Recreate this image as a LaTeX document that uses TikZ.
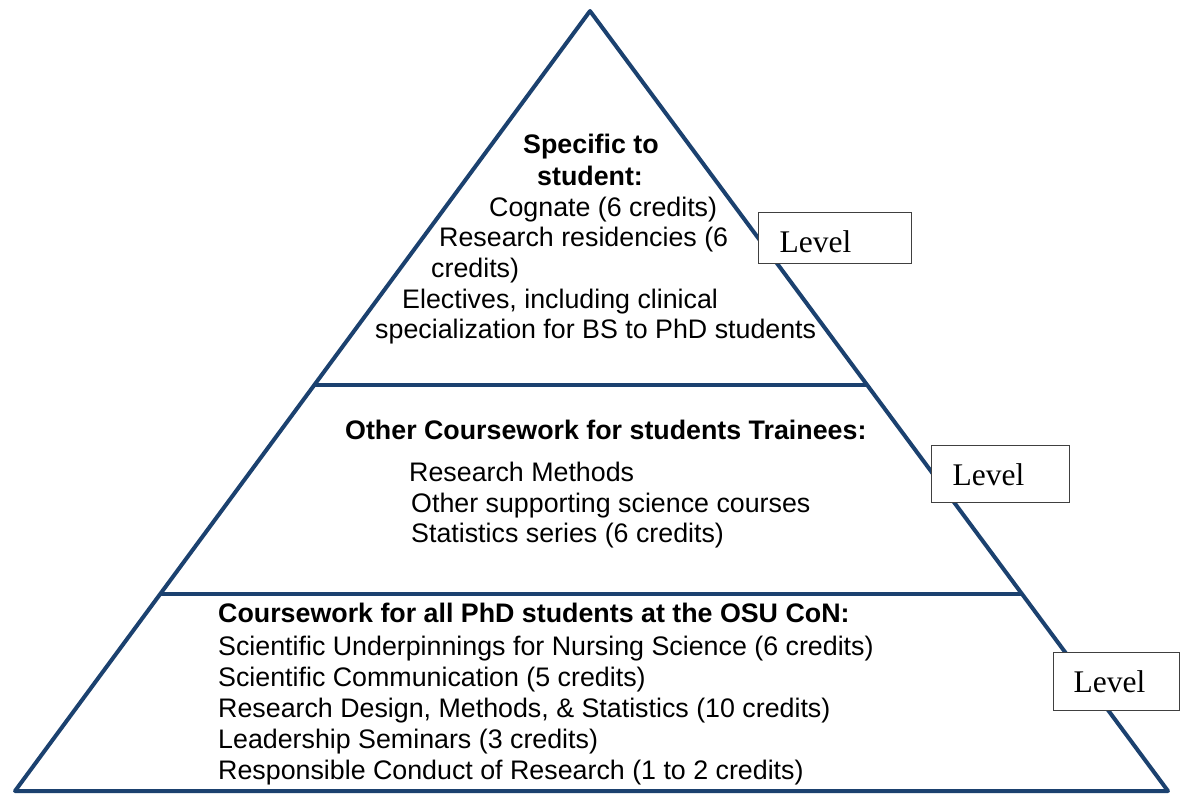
\documentclass[tikz,border=0pt]{standalone}
\usepackage{fontspec}
\setmainfont{Liberation Sans}
\newfontfamily\levelfont{Liberation Serif}
\definecolor{pyramidblue}{HTML}{1B416F}
\begin{document}
\begin{tikzpicture}[x=1pt,y=-1pt,
  tier/.style={draw=pyramidblue, line width=4pt, line join=round},
  item/.style={anchor=base west, inner sep=0pt, font=\fontsize{26.8}{31}\selectfont},
  head/.style={item, font=\fontsize{26.8}{31}\selectfont\bfseries},
  levelbox/.style={draw=black!75, fill=white, line width=1.2pt, anchor=north west,
    font=\fontsize{31.5}{34}\levelfont, align=left, inner ysep=0pt, text height=40pt}]
\useasboundingbox (0,0) rectangle (1180,795);
\draw[tier] (590,11) -- (1168,791) -- (15,791) -- cycle;
\draw[tier] (314,385) -- (867,385);
\draw[tier] (160,594) -- (1022,594);
\node[head] (top1) at (523,153) {Specific to};
\node[head] (top2) at (537,185) {student:};
\node[item] (top3) at (489,216) {Cognate (6 credits)};
\node[item] (top4) at (439,246) {Research residencies (6};
\node[item] (top5) at (431,277) {credits)};
\node[item] (top6) at (402,308) {Electives, including clinical};
\node[item] (top7) at (375,338) {specialization for BS to PhD students};
\node[head] (mid1) at (345,439) {Other Coursework for students Trainees:};
\node[item] (mid2) at (409,481) {Research Methods};
\node[item] (mid3) at (411,512) {Other supporting science courses};
\node[item] (mid4) at (411,542) {Statistics series (6 credits)};
\node[head] (bot1) at (218,622) {Coursework for all PhD students at the OSU CoN:};
\node[item] (bot2) at (218,655) {Scientific Underpinnings for Nursing Science (6 credits)};
\node[item] (bot3) at (218,686) {Scientific Communication (5 credits)};
\node[item] (bot4) at (218,717) {Research Design, Methods, \& Statistics (10 credits)};
\node[item] (bot5) at (218,748) {Leadership Seminars (3 credits)};
\node[item] (bot6) at (218,779) {Responsible Conduct of Research (1 to 2 credits)};
\node[levelbox, inner xsep=21pt, text width=111pt, text depth=11pt] (level1) at (758,212) {Level};
\node[levelbox, inner xsep=21pt, text width=96pt, text depth=17pt] (level2) at (931,445) {Level};
\node[levelbox, inner xsep=20pt, text width=86pt, text depth=18pt] (level3) at (1053,652) {Level};
\end{tikzpicture}
\end{document}
